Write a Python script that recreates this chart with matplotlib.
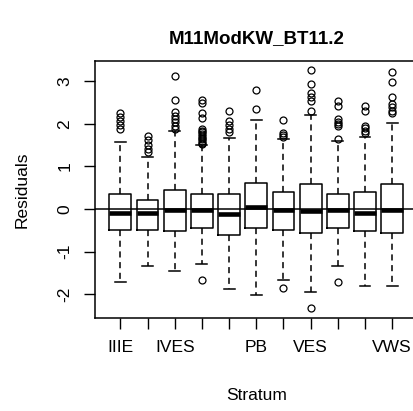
import matplotlib
matplotlib.use('Agg')
import matplotlib.pyplot as plt

# strata (only some labels fit, as in R's default axis)
labels = ['IIIE', '', 'IVES', '', '', 'PB', '', 'VES', '', '', 'VWS']

# box statistics
whislo = [-1.72, -1.34, -1.46, -1.30, -1.87, -2.01, -1.66, -1.94, -1.34, -1.81, -1.81]
q1 = [-0.48, -0.48, -0.52, -0.45, -0.60, -0.45, -0.48, -0.55, -0.45, -0.52, -0.55]
med = [-0.09, -0.09, -0.03, -0.03, -0.12, 0.06, -0.02, -0.05, -0.03, -0.09, -0.03]
q3 = [0.36, 0.22, 0.45, 0.36, 0.36, 0.61, 0.39, 0.58, 0.36, 0.39, 0.58]
whishi = [1.57, 1.23, 1.84, 1.51, 1.67, 2.09, 1.64, 2.22, 1.60, 1.70, 2.03]
fliers = [
    [2.26, 2.17, 2.07, 1.97, 1.87],
    [1.72, 1.62, 1.50, 1.41, 1.33],
    [3.12, 2.56, 2.29, 2.19, 2.11, 2.04, 1.95, 1.87],
    [2.56, 2.48, 2.25, 2.13, 1.88, 1.84, 1.80, 1.76, 1.72, 1.68, 1.64, 1.60, 1.56, 1.53, -1.66],
    [2.30, 2.07, 1.97, 1.88, 1.82],
    [2.79, 2.34],
    [2.09, 1.79, 1.74, 1.69, -1.85],
    [3.26, 2.93, 2.73, 2.64, 2.54, 2.31, -2.33],
    [2.54, 2.42, 2.11, 2.05, 2.00, 1.94, 1.64, -1.72],
    [2.42, 2.31, 1.95, 1.90, 1.84, 1.78],
    [3.22, 2.99, 2.64, 2.47, 2.39, 2.31, 2.25],
]

stats = []
for i in range(len(labels)):
    stats.append({'whislo': whislo[i], 'q1': q1[i], 'med': med[i], 'q3': q3[i],
                  'whishi': whishi[i], 'fliers': fliers[i]})

plt.rcParams['font.family'] = ['Liberation Sans', 'DejaVu Sans']

fig = plt.figure(figsize=(4.14, 4.11), dpi=100)
ax = fig.add_axes([0.229, 0.227, 0.78, 0.625])

pos = list(range(1, len(labels) + 1))
ax.bxp(stats, positions=pos, widths=0.8, capwidths=0.4,
       boxprops=dict(color='black', linewidth=1.1),
       medianprops=dict(color='black', linewidth=3.3, solid_capstyle='butt'),
       whiskerprops=dict(color='black', linewidth=1.1, linestyle=(0, (4, 3))),
       capprops=dict(color='black', linewidth=1.1),
       flierprops=dict(marker='o', markersize=5, markerfacecolor='none',
                       markeredgecolor='black', markeredgewidth=0.9))

ax.axhline(0, color='black', linewidth=1.1)

ax.set_xlim(0.06, 11.94)
ax.set_ylim(-2.55, 3.48)
ax.set_xticks(pos)
ax.set_xticklabels(labels, fontsize=12.5)
ax.set_yticks([-2, -1, 0, 1, 2, 3])
ax.set_yticklabels(['-2', '-1', '0', '1', '2', '3'], rotation=90, va='center', fontsize=12.5)
ax.tick_params(length=8, width=1, pad=8)
for s in ax.spines.values():
    s.set_linewidth(1.1)

ax.set_xlabel('Stratum', fontsize=12.5, labelpad=24)
ax.set_ylabel('Residuals', fontsize=12.5, labelpad=20)
fig.text(0.619, 0.905, 'M11ModKW_BT11.2', ha='center', va='center',
         fontsize=13.5, fontweight='bold')

fig.savefig('out.png', dpi=100)
